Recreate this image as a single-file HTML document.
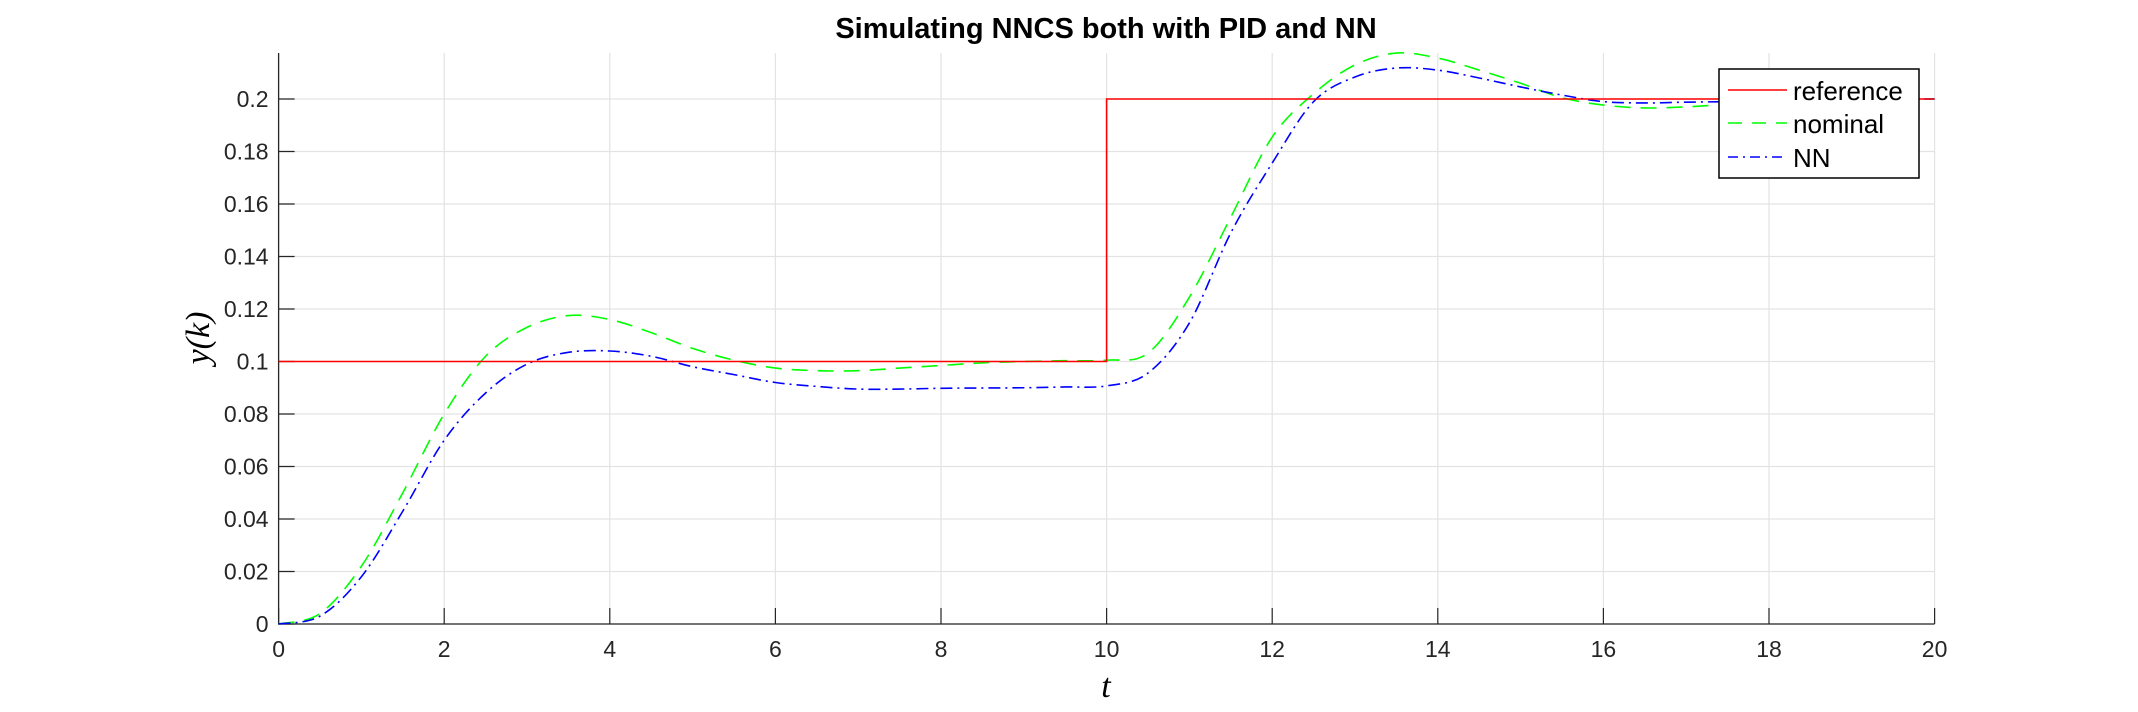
<!DOCTYPE html>
<html><head><meta charset="utf-8"><style>
html,body{margin:0;padding:0;background:#fff;}
svg{display:block;font-family:"Liberation Sans",sans-serif;}
</style></head><body>
<svg id="chart" width="2138" height="712" xmlns="http://www.w3.org/2000/svg">
<text x="1106" y="38" text-anchor="middle" font-size="29" font-weight="bold">Simulating NNCS both with PID and NN</text>
<g id="grid"></g>
<g id="axes"></g>
<g id="series"></g>
<text x="1106" y="697" text-anchor="middle" font-size="34" font-style="italic" font-family="Liberation Serif, serif">t</text>
<text transform="translate(209,338) rotate(-90)" text-anchor="middle" font-size="34" font-style="italic" font-family="Liberation Serif, serif">y(k)</text>
<g>
<rect x="1719" y="69" width="200" height="109" fill="#fff" stroke="#000" stroke-width="1.5"/>
<line x1="1728" y1="90" x2="1787" y2="90" stroke="#f00" stroke-width="1.5"/>
<text x="1793" y="100" font-size="26">reference</text>
<line x1="1728" y1="123" x2="1787" y2="123" stroke="#0f0" stroke-width="1.5" stroke-dasharray="14,10"/>
<text x="1793" y="133" font-size="26">nominal</text>
<line x1="1728" y1="157" x2="1787" y2="157" stroke="#00f" stroke-width="1.5" stroke-dasharray="10,5,2,5"/>
<text x="1793" y="167" font-size="26">NN</text>
</g>
</svg>
<script>
const tVals=[0,0.5,1,1.5,2,2.5,3,3.5,4,4.5,5,5.5,6,6.5,7,7.5,8,8.5,9,9.5,10,10.5,11,11.5,12,12.5,13,13.5,14,14.5,15,15.5,16,16.5,17,17.5,18,18.5,19,19.5,20];
const nominal=[0,0.004,0.022,0.05,0.08,0.102,0.113,0.1175,0.116,0.111,0.105,0.1005,0.0975,0.0965,0.0965,0.0975,0.0985,0.0995,0.1,0.1003,0.1005,0.1032,0.1245,0.155,0.1855,0.202,0.213,0.2175,0.2156,0.211,0.206,0.2005,0.1977,0.1966,0.197,0.198,0.199,0.1995,0.2,0.2,0.2];
const nn=[0,0.003,0.018,0.043,0.07,0.088,0.099,0.1035,0.104,0.102,0.098,0.095,0.092,0.0905,0.0895,0.0895,0.0898,0.0899,0.09,0.0903,0.0907,0.0956,0.1147,0.149,0.1756,0.199,0.2084,0.2118,0.211,0.208,0.2046,0.2015,0.199,0.1985,0.1988,0.199,0.1993,0.1996,0.2,0.2,0.2];
const refT=[0,10,10,20];
const refY=[0.1,0.1,0.2,0.2];
const xTicks=[0,2,4,6,8,10,12,14,16,18,20];
const yTicks=[0,0.02,0.04,0.06,0.08,0.1,0.12,0.14,0.16,0.18,0.2];
const yTickLabels=["0","0.02","0.04","0.06","0.08","0.1","0.12","0.14","0.16","0.18","0.2"];
const X0=278.6,X1=1934.6,Y0=624,Y02=99,YT=53;
const sx=v=>X0+(v/20)*(X1-X0);
const sy=v=>Y0-(v/0.2)*(Y0-Y02);
const NS="http://www.w3.org/2000/svg";
function mk(tag,attrs,parent){const e=document.createElementNS(NS,tag);for(const k in attrs)e.setAttribute(k,attrs[k]);parent.appendChild(e);return e;}
const grid=document.getElementById('grid'),axes=document.getElementById('axes'),series=document.getElementById('series');
xTicks.forEach(v=>{
 const g=mk('line',{x1:sx(v),x2:sx(v),y1:YT,y2:Y0,stroke:'#e3e3e3','stroke-width':1.2},grid);
 
 
 const t=mk('line',{x1:sx(v),x2:sx(v),y1:Y0,y2:Y0-16,stroke:'#262626','stroke-width':1.2},axes);
 
 
 const l=mk('text',{x:sx(v),y:Y0+33,'text-anchor':'middle','font-size':23,fill:'#262626'},axes);
 l.textContent=String(v);
 
 
});
yTicks.forEach((v,i)=>{
 const g=mk('line',{x1:X0,x2:X1,y1:sy(v),y2:sy(v),stroke:'#e3e3e3','stroke-width':1.2},grid);
 
 
 const t=mk('line',{x1:X0,x2:X0+16,y1:sy(v),y2:sy(v),stroke:'#262626','stroke-width':1.2},axes);
 
 
 const l=mk('text',{x:X0-10,y:sy(v)+8,'text-anchor':'end','font-size':23,fill:'#262626'},axes);
 l.textContent=yTickLabels[i];
 
 
});
const ax=mk('path',{d:`M${X0},${YT}V${Y0}H${X1}`,fill:'none',stroke:'#262626','stroke-width':1.3},axes);


function smooth(xs,ys){
 const p=xs.map((x,i)=>[sx(x),sy(ys[i])]);let d=`M${p[0][0]},${p[0][1]}`;
 for(let i=0;i<p.length-1;i++){const a=p[Math.max(0,i-1)],b=p[i],c=p[i+1],e=p[Math.min(p.length-1,i+2)];
 d+=`C${b[0]+(c[0]-a[0])/6},${b[1]+(c[1]-a[1])/6} ${c[0]-(e[0]-b[0])/6},${c[1]-(e[1]-b[1])/6} ${c[0]},${c[1]}`;}
 return d;}
const g1=mk('path',{d:smooth(tVals,nominal),fill:'none',stroke:'#0f0','stroke-width':1.6,'stroke-dasharray':'16,10'},series);


const b1=mk('path',{d:smooth(tVals,nn),fill:'none',stroke:'#00f','stroke-width':1.6,'stroke-dasharray':'12,5,2,5'},series);


const r=mk('path',{d:refT.map((t,i)=>(i?'L':'M')+sx(t)+','+sy(refY[i])).join(''),fill:'none',stroke:'#f00','stroke-width':1.6},series);


</script>
</body></html>
